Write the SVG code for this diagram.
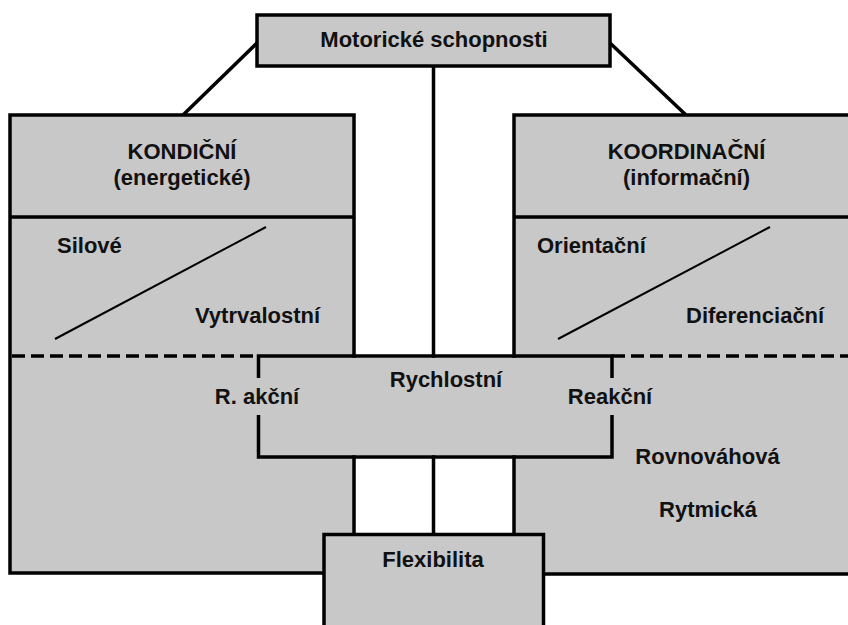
<svg xmlns="http://www.w3.org/2000/svg" width="848" height="625" viewBox="0 0 848 625">
<style>
.box{fill:#c8c8c8;stroke:#000;stroke-width:3.5}
.fill{fill:#c8c8c8;stroke:none}
.ln{stroke:#000;stroke-width:3.5;fill:none}
.dash{stroke:#000;stroke-width:3.5;stroke-dasharray:13 6;fill:none}
.thin{stroke:#000;stroke-width:2;fill:none}
text{font-family:"Liberation Sans",Arial,sans-serif;font-weight:bold;font-size:22px;fill:#111}
.m{text-anchor:middle}
</style>
<rect width="848" height="625" fill="#fff"/>
<g id="connectors">
<line class="ln" x1="257" y1="43" x2="183" y2="115"/>
<line class="ln" x1="610" y1="43" x2="686" y2="115"/>
<line class="ln" x1="433.5" y1="66" x2="433.5" y2="534"/>
</g>
<g id="kondicni">
<rect class="box" x="10" y="115" width="344" height="458"/>
<line class="ln" x1="10" y1="217" x2="354" y2="217"/>
<line class="dash" x1="12" y1="356" x2="258" y2="356"/>
<line class="thin" x1="55" y1="339" x2="266" y2="227"/>
<text class="m" x="182" y="159">KONDIČNÍ</text>
<text class="m" x="182" y="185">(energetické)</text>
<text x="57" y="253">Silové</text>
<text x="195" y="323">Vytrvalostní</text>
</g>
<g id="koordinacni">
<rect class="box" x="514" y="115" width="350" height="459"/>
<line class="ln" x1="514" y1="217" x2="848" y2="217"/>
<line class="dash" x1="612" y1="356" x2="848" y2="356"/>
<line class="thin" x1="558" y1="339" x2="770" y2="227"/>
<text class="m" x="686.5" y="159">KOORDINAČNÍ</text>
<text class="m" x="686.5" y="185">(informační)</text>
<text x="537" y="253">Orientační</text>
<text x="686" y="323">Diferenciační</text>
<text class="m" x="707.5" y="464">Rovnováhová</text>
<text class="m" x="708" y="517">Rytmická</text>
</g>
<g id="rychlostni">
<rect class="fill" x="258.5" y="357.7" width="353.5" height="97.6"/>
<path class="ln" d="M258.5 378V356H612V378M258.5 415V457H612V415"/>
<text class="m" x="446" y="387">Rychlostní</text>
<text class="m" x="257" y="404">R. akční</text>
<text class="m" x="610" y="404">Reakční</text>
</g>
<g id="motoricke">
<rect class="box" x="257" y="15" width="353" height="51"/>
<text class="m" x="434" y="47">Motorické schopnosti</text>
</g>
<g id="flexibilita">
<rect class="box" x="324" y="534.5" width="219.5" height="110"/>
<text class="m" x="433" y="567">Flexibilita</text>
</g>
</svg>
